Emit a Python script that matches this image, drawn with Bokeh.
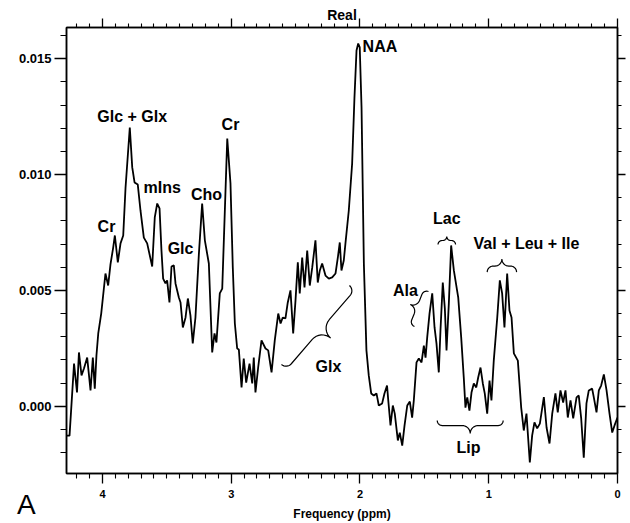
import math
from bokeh.plotting import figure
from bokeh.models import Range1d, FixedTicker, LinearAxis, Label, Div
from bokeh.layouts import column
from bokeh.embed import file_html
from bokeh.resources import INLINE

# ---------------- data ----------------
ppm = [4.280, 4.256, 4.221, 4.198, 4.183, 4.163, 4.144, 4.119, 4.093, 4.075,
       4.060, 4.047, 4.033, 4.010, 3.977, 3.956, 3.938, 3.917, 3.904, 3.881,
       3.860, 3.839, 3.821, 3.788, 3.769, 3.751, 3.726, 3.705, 3.679, 3.653,
       3.614, 3.594, 3.575, 3.557, 3.542, 3.529, 3.511, 3.498, 3.480, 3.464,
       3.446, 3.433, 3.407, 3.394, 3.376, 3.355, 3.337, 3.317, 3.299, 3.278,
       3.252, 3.226, 3.205, 3.174, 3.148, 3.130, 3.115, 3.089, 3.070, 3.031,
       3.006, 2.988, 2.972, 2.954, 2.941, 2.920, 2.903, 2.884, 2.858, 2.837,
       2.825, 2.812, 2.791, 2.765, 2.734, 2.713, 2.687, 2.662, 2.635, 2.617,
       2.600, 2.579, 2.561, 2.540, 2.519, 2.501, 2.483, 2.468, 2.449, 2.431,
       2.410, 2.390, 2.371, 2.346, 2.328, 2.312, 2.294, 2.268, 2.242, 2.216,
       2.190, 2.172, 2.157, 2.144, 2.126, 2.113, 2.087, 2.061, 2.043, 2.027,
       2.014, 2.002, 1.988, 1.970, 1.950, 1.932, 1.913, 1.893, 1.872, 1.854,
       1.828, 1.810, 1.790, 1.779, 1.763, 1.745, 1.730, 1.706, 1.691, 1.672,
       1.654, 1.633, 1.613, 1.595, 1.582, 1.561, 1.543, 1.522, 1.504, 1.491,
       1.478, 1.460, 1.439, 1.421, 1.406, 1.388, 1.375, 1.357, 1.341, 1.328,
       1.310, 1.292, 1.271, 1.237, 1.214, 1.194, 1.181, 1.167, 1.150, 1.134,
       1.116, 1.097, 1.082, 1.064, 1.046, 1.031, 1.012, 0.994, 0.979, 0.961,
       0.934, 0.914, 0.896, 0.878, 0.857, 0.839, 0.823, 0.805, 0.774, 0.748,
       0.728, 0.707, 0.681, 0.663, 0.645, 0.624, 0.603, 0.572, 0.551, 0.528,
       0.507, 0.482, 0.464, 0.443, 0.422, 0.404, 0.386, 0.365, 0.344, 0.318,
       0.301, 0.282, 0.262, 0.241, 0.223, 0.197, 0.184, 0.163, 0.145, 0.127,
       0.106, 0.085, 0.062, 0.041, 0.023, 0.000]

# intensity in units of 1e-3
real_milli = [-1.27, -1.27, 1.84, 0.59, 2.32, 1.33, 1.63, 2.10, 0.68, 2.10,
              0.76, 2.19, 3.14, 4.00, 5.73, 5.21, 6.12, 6.85, 7.37, 6.21,
              7.03, 7.37, 9.44, 12.03, 10.31, 9.66, 9.57, 8.45, 7.28, 7.03,
              6.03, 8.15, 8.75, 8.54, 6.72, 5.51, 5.30, 5.43, 4.48, 6.03,
              6.08, 5.30, 4.69, 4.48, 3.40, 3.83, 4.65, 3.92, 2.71, 3.83,
              6.51, 8.75, 7.16, 6.16, 2.32, 3.14, 2.75, 4.87, 5.08, 11.56,
              9.62, 5.99, 3.57, 2.49, 2.45, 0.81, 2.06, 1.02, 1.84, 0.98,
              2.10, 0.59, 1.67, 2.84, 2.49, 2.41, 1.46, 2.84, 4.00, 3.57,
              3.83, 3.79, 4.48, 5.00, 3.14, 4.56, 6.21, 4.87, 6.42, 5.13,
              6.72, 5.21, 5.99, 7.16, 5.34, 5.86, 6.16, 5.64, 5.51, 5.56,
              5.73, 6.42, 7.07, 5.86, 6.29, 7.03, 8.45, 10.48, 13.33, 15.36,
              15.66, 15.49, 12.90, 6.16, 2.41, 1.33, 0.55, 0.46, 0.55, 0.03,
              0.12, 0.55, 0.89, 0.16, -0.83, 0.03, -0.32, -1.48, -1.14, -1.70,
              -0.83, 0.03, 0.20, -0.49, 0.25, 1.89, 2.06, 1.89, 2.62, 2.10,
              2.97, 4.00, 4.87, 3.40, 2.71, 1.46, 3.27, 5.34, 4.22, 2.41,
              4.44, 6.94, 5.86, 4.69, 2.97, 1.24, -0.06, 0.38, -0.19, 0.59,
              0.98, 0.81, 1.24, 1.67, 0.98, 0.55, -0.32, 1.11, 0.25, 1.97,
              3.83, 5.43, 4.87, 3.40, 5.73, 4.13, 3.83, 2.28, 1.97, -0.06,
              -1.05, -0.32, -2.43, -1.27, -0.70, -0.96, -0.75, 0.39, -0.92, -1.61,
              -0.32, 0.55, -0.27, 0.68, 0.16, 0.68, -0.49, 0.25, -0.53, 0.38,
              0.46, -0.53, -2.22, 0.12, 0.68, 0.76, 0.38, -0.27, 0.68, 0.89,
              1.37, 0.68, -0.32, -1.14, -0.83, -0.49]
real = [v * 1e-3 for v in real_milli]

x_tick_values = [0, 1, 2, 3, 4]
x_tick_labels = ["0", "1", "2", "3", "4"]
y_tick_values = [0.0, 0.005, 0.010, 0.015]
y_tick_labels = ["0.000", "0.005", "0.010", "0.015"]

# peak annotations: text, ppm, intensity
peak_names = ["Cr", "Glc + Glx", "mIns", "Glc", "Cho", "Cr", "NAA",
              "Glx", "Ala", "Lac", "Lip", "Val + Leu + Ile"]
peak_ppm = [3.969, 3.769, 3.536, 3.394, 3.192, 3.006, 1.845,
            2.245, 1.647, 1.326, 1.157, 0.707]
peak_int = [0.00777, 0.01251, 0.00946, 0.00680, 0.00913, 0.01216, 0.01553,
            0.00171, 0.00500, 0.00809, -0.00177, 0.00701]

# braces: start (ppm, int), end (ppm, int), side, hook, depth (px)
brace_start = [(2.610, 0.00180), (1.468, 0.00495), (1.394, 0.00698),
               (1.012, 0.00579), (1.400, -0.00062)]
brace_end = [(2.082, 0.00521), (1.577, 0.00344), (1.258, 0.00698),
             (0.784, 0.00579), (0.888, -0.00062)]
brace_side = [-1, -1, 1, 1, -1]
brace_hook = [7, 5, 4, 6, 5]
brace_depth = [20, 12, 8, 13, 13]

# ---------------- figure ----------------
XL, XR = 4.2796, 0.0
YB, YT = -0.002906, 0.01635
FW, FH = 551, 446
FONT = "Liberation Sans"

p = figure(frame_width=FW, frame_height=FH,
           x_range=Range1d(XL, XR), y_range=Range1d(YB, YT),
           output_backend="svg", toolbar_location=None,
           min_border_left=66, min_border_top=27, min_border_bottom=50,
           min_border_right=13, background_fill_color="white",
           border_fill_color="white")
p.xgrid.visible = False
p.ygrid.visible = False
p.outline_line_color = "black"
p.outline_line_width = 1.5

x_minor = [i / 10 for i in range(1, 43) if i % 10 != 0]
y_minor = [i / 1000 for i in range(-2, 17) if i % 5 != 0]
xt = FixedTicker(ticks=x_tick_values, minor_ticks=x_minor)
yt = FixedTicker(ticks=y_tick_values, minor_ticks=y_minor)


def style(ax, major_out, minor_out):
    ax.axis_line_color = "black"
    ax.axis_line_width = 1.5
    ax.major_tick_line_color = "black"
    ax.major_tick_line_width = 1.3
    ax.minor_tick_line_color = "black"
    ax.minor_tick_line_width = 1.1
    ax.major_tick_in = 0
    ax.minor_tick_in = 0
    ax.major_tick_out = major_out
    ax.minor_tick_out = minor_out
    ax.major_label_text_color = "black"
    ax.axis_label_text_color = "black"


xa = p.xaxis[0]
xa.ticker = xt
xa.major_label_overrides = {v: s for v, s in zip(x_tick_values, x_tick_labels)}
xa.axis_label = "Frequency (ppm)"
xa.axis_label_text_font = FONT
xa.axis_label_text_font_style = "bold"
xa.axis_label_text_font_size = "12px"
xa.axis_label_standoff = 6
xa.major_label_text_font = FONT
xa.major_label_text_font_style = "bold"
xa.major_label_text_font_size = "11px"
xa.major_label_standoff = 6
style(xa, 10, 5)

ya = p.yaxis[0]
ya.ticker = yt
ya.major_label_overrides = {v: s for v, s in zip(y_tick_values, y_tick_labels)}
ya.major_label_text_font = FONT
ya.major_label_text_font_style = "bold"
ya.major_label_text_font_size = "13px"
ya.major_label_standoff = 3
style(ya, 12, 6)

top = LinearAxis(ticker=FixedTicker(ticks=x_tick_values, minor_ticks=x_minor),
                 major_label_overrides={v: "" for v in x_tick_values},
                 major_label_text_font_size="1px", major_label_standoff=0,
                 axis_label="Real", axis_label_text_font=FONT,
                 axis_label_text_font_style="bold",
                 axis_label_text_font_size="14px", axis_label_standoff=-4)
style(top, 9, 4)
p.add_layout(top, "above")

right = LinearAxis(ticker=FixedTicker(ticks=y_tick_values, minor_ticks=y_minor),
                   major_label_overrides={v: "" for v in y_tick_values},
                   major_label_text_font_size="1px", major_label_standoff=0)
style(right, 8, 4)
p.add_layout(right, "right")

# spectrum
p.line(ppm, real, line_color="black", line_width=1.8)

# peak labels
for name, px, py in zip(peak_names, peak_ppm, peak_int):
    p.add_layout(Label(x=px, y=py, text=name, text_font=FONT,
                       text_font_style="bold", text_font_size="16px",
                       text_align="center", text_baseline="middle",
                       text_color="black"))


# braces
def to_screen(x, y):
    return ((XL - x) / (XL - XR) * FW, (y - YB) / (YT - YB) * FH)


def to_data(sx, sy):
    return (XL - sx / FW * (XL - XR), YB + sy / FH * (YT - YB))


def brace(p0, p1, side, h, d):
    a = to_screen(*p0)
    b = to_screen(*p1)
    L = math.hypot(b[0] - a[0], b[1] - a[1])
    ux, uy = (b[0] - a[0]) / L, (b[1] - a[1]) / L
    nx, ny = -uy * side, ux * side
    r2 = d - h
    half = []
    for k in range(9):
        th = k / 8 * math.pi / 2
        half.append((h - h * math.cos(th), h * math.sin(th)))
    for k in range(9):
        ph = k / 8 * math.pi / 2
        half.append((L / 2 - r2 + r2 * math.sin(ph), d - r2 * math.cos(ph)))
    prof = half + [(L - s, f) for s, f in reversed(half)]
    xs, ys = [], []
    for s, f in prof:
        sx = a[0] + ux * s + nx * f
        sy = a[1] + uy * s + ny * f
        dx, dy = to_data(sx, sy)
        xs.append(dx)
        ys.append(dy)
    return xs, ys


for b0, b1, sd, hk, dp in zip(brace_start, brace_end, brace_side,
                              brace_hook, brace_depth):
    bx, by = brace(b0, b1, sd, hk, dp)
    p.line(bx, by, line_color="black", line_width=1.2)

# panel letter "A" (outside the frame)
panel_letter = Div(text="A", width=30, height=30,
                   styles={"position": "absolute", "left": "17px",
                           "top": "491px", "font-family": FONT,
                           "font-size": "28px", "line-height": "28px",
                           "color": "black", "margin": "0", "padding": "0"})

layout = column(p, panel_letter)
open("out.html", "w").write(file_html(layout, INLINE))
